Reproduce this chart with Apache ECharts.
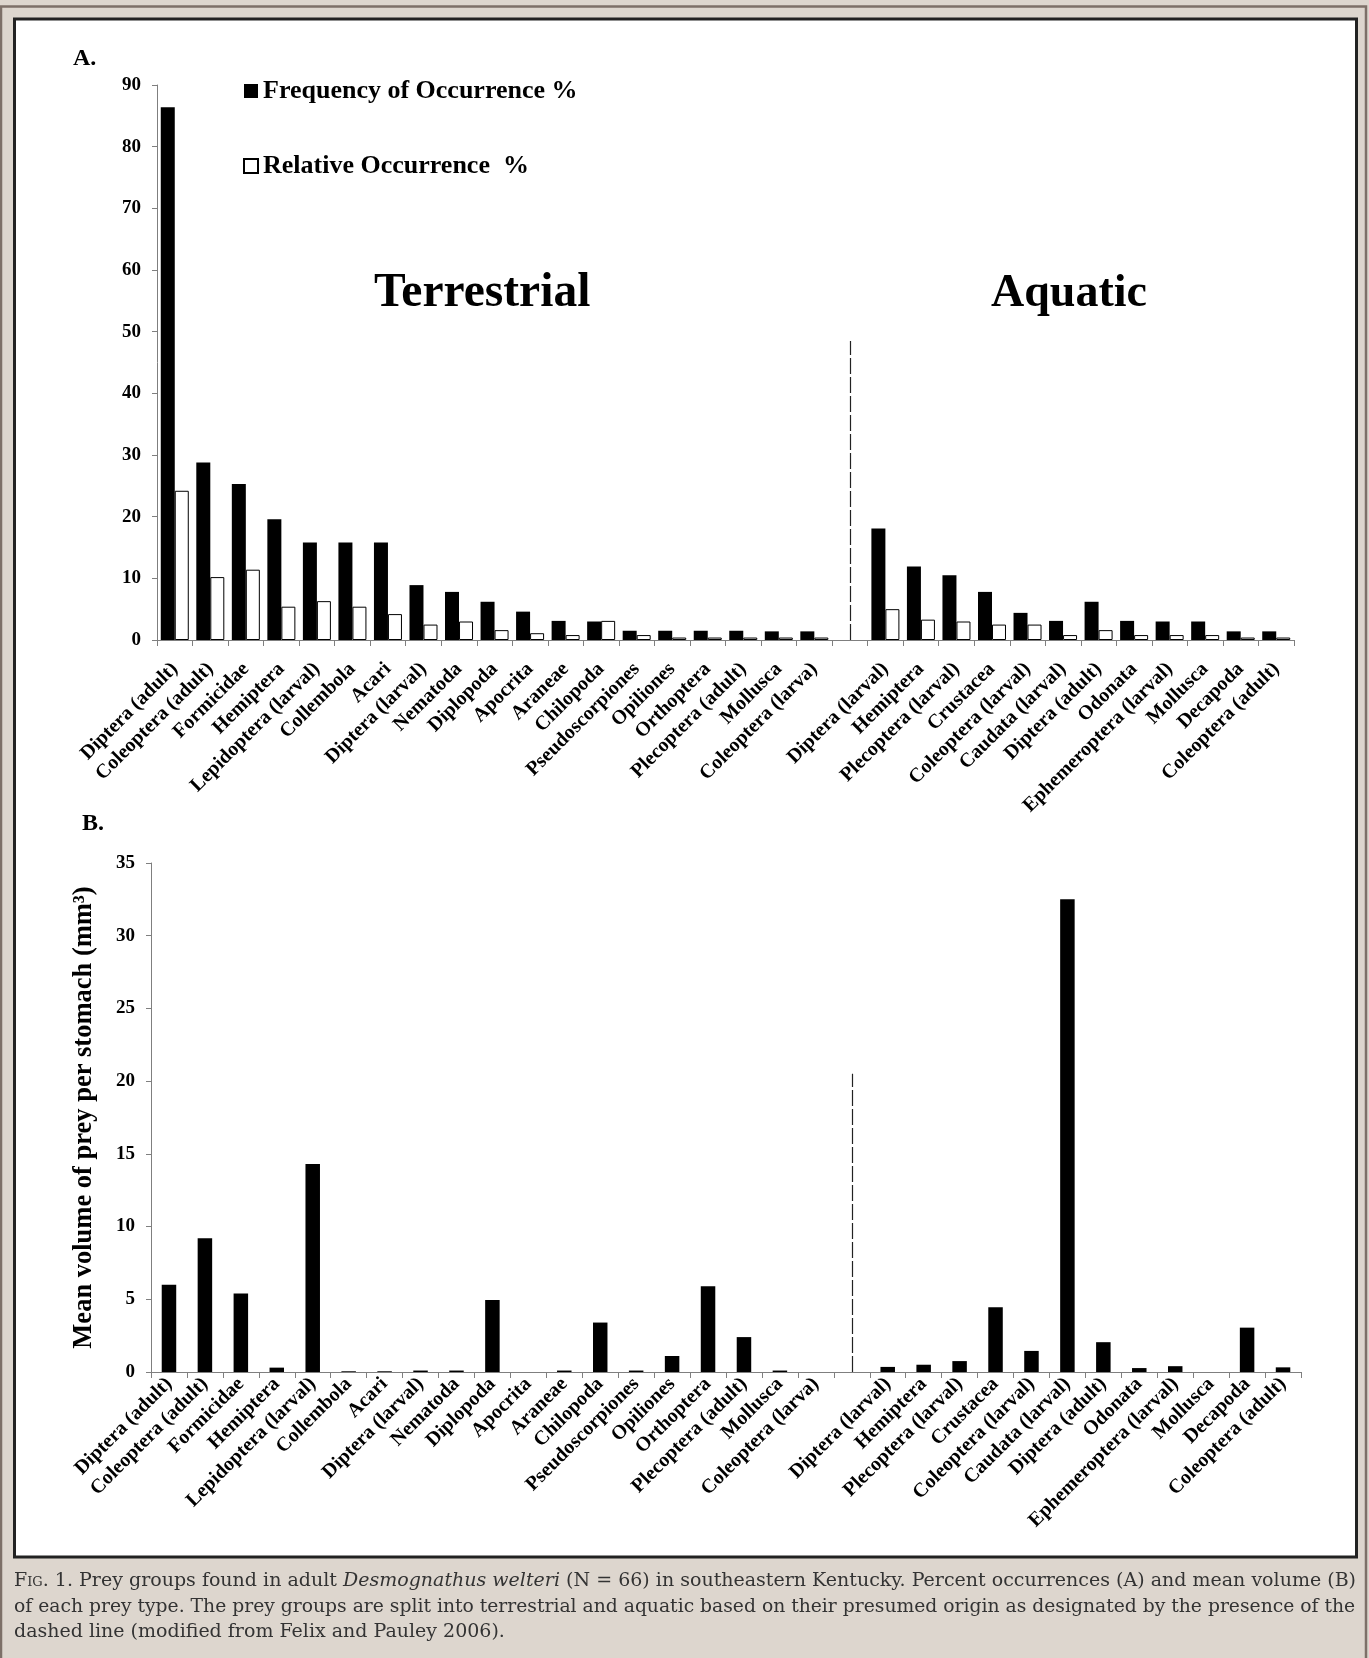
<!DOCTYPE html>
<html>
<head>
<meta charset="utf-8">
<script src="https://cdn.jsdelivr.net/npm/echarts@6/dist/echarts.min.js"></script>
<style>
  html, body { margin: 0; padding: 0; background: #ddd6ce; }
  #chart { position: absolute; left: 0; top: 0; width: 1369px; height: 1658px; }
  #caption { position: absolute; left: 14px; top: 1567px; width: 1342px;
    font-family: 'DejaVu Serif', serif; font-size: 19px; line-height: 25.7px; color: #333; }
  #caption div { white-space: nowrap; }
  .sc { font-variant: small-caps; }
</style>
</head>
<body>
<div id="chart"></div>
<div id="caption">
  <div class="cl">F<span class="sc">ig</span>. 1. Prey groups found in adult <i>Desmognathus welteri</i> (N = 66) in southeastern Kentucky. Percent occurrences (A) and mean volume (B)</div>
  <div class="cl">of each prey type. The prey groups are split into terrestrial and aquatic based on their presumed origin as designated by the presence of the</div>
  <div>dashed line (modified from Felix and Pauley 2006).</div>
</div>
<script>
// ---------- data ----------
const terrestrialCategories = ['Diptera (adult)', 'Coleoptera (adult)', 'Formicidae', 'Hemiptera',
  'Lepidoptera (larval)', 'Collembola', 'Acari', 'Diptera (larval)', 'Nematoda', 'Diplopoda',
  'Apocrita', 'Araneae', 'Chilopoda', 'Pseudoscorpiones', 'Opiliones', 'Orthoptera',
  'Plecoptera (adult)', 'Mollusca', 'Coleoptera (larva)'];
const aquaticCategories = ['Diptera (larval)', 'Hemiptera', 'Plecoptera (larval)', 'Crustacea',
  'Coleoptera (larval)', 'Caudata (larval)', 'Diptera (adult)', 'Odonata',
  'Ephemeroptera (larval)', 'Mollusca', 'Decapoda', 'Coleoptera (adult)'];

const freqTerrestrial = [86.4, 28.8, 25.3, 19.6, 15.8, 15.8, 15.8, 8.9, 7.8, 6.2, 4.6, 3.1, 3.0, 1.5, 1.5, 1.5, 1.5, 1.4, 1.4];
const freqAquatic     = [18.1, 11.9, 10.5, 7.8, 4.4, 3.1, 6.2, 3.1, 3.0, 3.0, 1.4, 1.4];
const relTerrestrial  = [24.2, 10.2, 11.4, 5.4, 6.3, 5.4, 4.2, 2.5, 3.0, 1.6, 1.1, 0.8, 3.1, 0.8, 0.4, 0.4, 0.4, 0.4, 0.4];
const relAquatic      = [5.0, 3.3, 3.0, 2.5, 2.5, 0.8, 1.6, 0.8, 0.8, 0.8, 0.4, 0.4];
const volTerrestrial  = [6.0, 9.2, 5.4, 0.3, 14.3, 0.05, 0.05, 0.1, 0.1, 4.95, 0, 0.1, 3.4, 0.1, 1.1, 5.9, 2.4, 0.1, 0];
const volAquatic      = [0.35, 0.5, 0.75, 4.45, 1.45, 32.5, 2.05, 0.27, 0.4, 0, 3.05, 0.32];

const yTicksA = { min: 0, max: 90, interval: 10 };
const yTicksB = { min: 0, max: 35, interval: 5 };
const dividerTopA = 48.5;   // top of dashed separator, chart A (value units)
const dividerTopB = 20.5;   // top of dashed separator, chart B

const legendNames = ['Frequency of Occurrence %', 'Relative Occurrence  %'];
const yNameB = 'Mean volume of prey per stomach (mm³)';

// ---------- build ----------
const categories = terrestrialCategories.concat([''], aquaticCategories);
const gapIndex = terrestrialCategories.length;
const join = (a, b) => a.concat([null], b);
const FONT = 'Liberation Serif';
const axisGrey = '#7f7f7f';

function xAxis(gi, margin) {
  return {
    gridIndex: gi, type: 'category', data: categories, boundaryGap: true,
    axisLine: { show: true, lineStyle: { color: axisGrey, width: 1 } },
    axisTick: { show: true, interval: 0, length: 6, lineStyle: { color: axisGrey } },
    axisLabel: { interval: 0, rotate: 45, margin: margin, color: '#000', fontFamily: FONT,
      fontWeight: 'bold', fontSize: 20 },
    splitLine: { show: false }
  };
}
function yAxis(gi, t, extra) {
  return Object.assign({
    gridIndex: gi, type: 'value', min: t.min, max: t.max, interval: t.interval,
    axisLine: { show: true, lineStyle: { color: axisGrey, width: 1 } },
    axisTick: { show: true, length: 5, lineStyle: { color: axisGrey } },
    axisLabel: { margin: 16, color: '#000', fontFamily: FONT, fontWeight: 'bold', fontSize: 19 },
    splitLine: { show: false }
  }, extra || {});
}
function dividerSeries(gi, top) {
  return {
    name: 'divider' + gi, type: 'line', xAxisIndex: gi, yAxisIndex: gi, data: [],
    silent: true, legendHoverLink: false,
    markLine: {
      symbol: 'none', silent: true, label: { show: false }, animation: false,
      lineStyle: { type: [16, 3], color: '#222', width: 1.2 },
      emphasis: { disabled: true },
      data: [[{ coord: [gapIndex, 0] }, { coord: [gapIndex, top] }]]
    }
  };
}

const chart = echarts.init(document.getElementById('chart'), null, { renderer: 'canvas' });
const bold = (txt, size) => ({ text: txt, fill: '#000', font: 'bold ' + size + 'px "' + FONT + '"',
  textVerticalAlign: 'middle' });

chart.setOption({
  animation: false,
  backgroundColor: 'transparent',
  textStyle: { fontFamily: FONT },
  graphic: [
    { type: 'rect', z: -20, silent: true, shape: { x: 1, y: 6.5, width: 1365, height: 1660 },
      style: { fill: '#ddd6ce', stroke: '#7d7068', lineWidth: 2.5 } },
    { type: 'rect', z: -10, silent: true, shape: { x: 14.5, y: 19, width: 1342, height: 1538 },
      style: { fill: '#ffffff', stroke: '#222222', lineWidth: 3 } },
    { type: 'text', x: 73, y: 58.5, style: bold('A.', 24) },
    { type: 'text', x: 82, y: 824, style: bold('B.', 24) },
    { type: 'text', x: 374, y: 294, style: bold('Terrestrial', 47.5) },
    { type: 'text', x: 991, y: 294, style: bold('Aquatic', 46) }
  ],
  legend: {
    data: legendNames, orient: 'vertical', left: 243, top: 78, padding: 0,
    itemWidth: 14, itemHeight: 14, itemGap: 49, icon: 'rect', selectedMode: false,
    textStyle: { fontFamily: FONT, fontWeight: 'bold', fontSize: 26, color: '#000' }
  },
  grid: [
    { left: 157, right: 75, top: 85, bottom: 1018 },
    { left: 151, right: 68, top: 863, bottom: 286 }
  ],
  xAxis: [xAxis(0, 26), xAxis(1, 9)],
  yAxis: [
    yAxis(0, yTicksA),
    yAxis(1, yTicksB, {
      name: yNameB, nameLocation: 'middle', nameGap: 53, nameRotate: 90,
      nameTextStyle: { fontFamily: FONT, fontWeight: 'bold', fontSize: 26.5, color: '#000' }
    })
  ],
  series: [
    { name: legendNames[0], type: 'bar', xAxisIndex: 0, yAxisIndex: 0,
      data: join(freqTerrestrial, freqAquatic), barWidth: 14, barGap: '0%',
      itemStyle: { color: '#000' } },
    { name: legendNames[1], type: 'bar', xAxisIndex: 0, yAxisIndex: 0,
      data: join(relTerrestrial, relAquatic), barWidth: 14, barGap: '0%',
      itemStyle: { color: '#fff', borderColor: '#000', borderWidth: 1 } },
    { name: 'Mean volume', type: 'bar', xAxisIndex: 1, yAxisIndex: 1,
      data: join(volTerrestrial, volAquatic), barWidth: 14.5,
      itemStyle: { color: '#000' } },
    dividerSeries(0, dividerTopA),
    dividerSeries(1, dividerTopB)
  ]
});

// justify first two caption lines to the panel width
(function () {
  const target = 1342;
  const cap = document.getElementById('caption');
  const lines = cap.querySelectorAll('.cl');
  lines.forEach(function (el) {
    const span = document.createElement('span');
    span.innerHTML = el.innerHTML;
    span.style.whiteSpace = 'nowrap';
    span.style.visibility = 'hidden';
    span.style.position = 'absolute';
    cap.appendChild(span);
    const w = span.getBoundingClientRect().width;
    span.remove();
    const spaces = (el.textContent.match(/ /g) || []).length;
    if (w > target) {
      el.style.fontSize = (19 * target / w) + 'px';
    } else if (spaces > 0) {
      el.style.wordSpacing = ((target - w) / spaces) + 'px';
    }
  });
})();
</script>
</body>
</html>
